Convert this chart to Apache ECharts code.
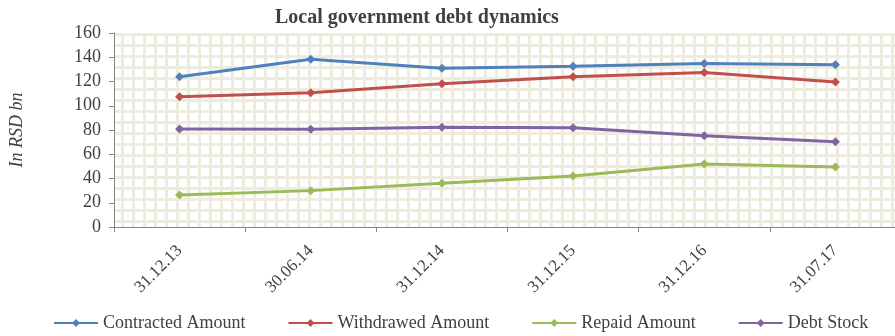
<!DOCTYPE html>
<html>
<head>
<meta charset="utf-8">
<script src="https://cdn.jsdelivr.net/npm/echarts@6/dist/echarts.min.js"></script>
<style>html,body{margin:0;padding:0;background:#fff;overflow:hidden;}#c{width:901px;height:336px;}</style>
</head>
<body>
<div id="c"></div>
<script>
const categories = ['31.12.13', '30.06.14', '31.12.14', '31.12.15', '31.12.16', '31.07.17'];
const contracted = [124, 138.3, 131, 132.6, 134.8, 133.8];
const withdrawed = [107.5, 110.8, 118.2, 124, 127.5, 119.6];
const repaid = [26.4, 30, 36, 42, 52, 49.5];
const debtStock = [80.8, 80.6, 82.2, 81.9, 75.3, 70.4];
const seriesNames = ['Contracted Amount', 'Withdrawed Amount', 'Repaid Amount', 'Debt Stock'];
const yTicks = { min: 0, max: 160, interval: 20 };

const colors = ['#4F81BD', '#C0504D', '#9BBB59', '#8064A2'];

// background texture pattern
const pc = document.createElement('canvas');
pc.width = 11; pc.height = 11;
const g = pc.getContext('2d');
g.fillStyle = '#ffffff'; g.fillRect(0, 0, 11, 11);
g.fillStyle = '#EEEBDF';
g.fillRect(0, 0, 3, 11);
g.fillRect(0, 0, 11, 3);

const serif = '"Liberation Serif", "DejaVu Serif", serif';
const chart = echarts.init(document.getElementById('c'), null, { renderer: 'canvas' });
const dataSets = [contracted, withdrawed, repaid, debtStock];

chart.setOption({
  animation: false,
  color: colors,
  title: {
    text: 'Local government debt dynamics',
    left: 270, top: 3,
    textStyle: { fontFamily: serif, fontSize: 20, fontWeight: 'bold', color: '#404040' }
  },
  legend: {
    left: 48, top: 309,
    itemWidth: 44, itemHeight: 10, itemGap: 42,
    textStyle: { fontFamily: serif, fontSize: 18, color: '#404040' },
    data: seriesNames
  },
  grid: {
    left: 110, top: 33, right: 0, height: 194,
    show: true, borderWidth: 0,
    backgroundColor: { image: pc, repeat: 'repeat' }
  },
  xAxis: {
    type: 'category',
    data: categories,
    boundaryGap: true,
    axisLine: { lineStyle: { color: '#868686', width: 1 } },
    axisTick: { show: true, length: 5, lineStyle: { color: '#868686' } },
    axisLabel: { rotate: 45, fontFamily: serif, fontSize: 17, color: '#404040', margin: 21 },
    splitLine: { show: false }
  },
  yAxis: {
    type: 'value',
    min: yTicks.min, max: yTicks.max, interval: yTicks.interval,
    name: 'In RSD bn',
    nameLocation: 'middle',
    nameGap: 88,
    nameTextStyle: { fontFamily: serif, fontSize: 18, fontStyle: 'italic', color: '#404040' },
    axisLine: { show: true, lineStyle: { color: '#868686', width: 1 } },
    axisTick: { show: true, length: 5, lineStyle: { color: '#868686' } },
    axisLabel: { fontFamily: serif, fontSize: 18, color: '#404040', margin: 13 },
    splitLine: { show: false }
  },
  series: seriesNames.map((n, i) => ({
    name: n,
    type: 'line',
    data: dataSets[i],
    symbol: 'diamond',
    symbolSize: 9,
    lineStyle: { width: 3, color: colors[i] },
    itemStyle: { color: colors[i] }
  }))
});
</script>
</body>
</html>
